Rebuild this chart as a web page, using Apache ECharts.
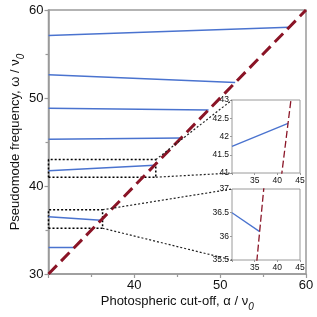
<!DOCTYPE html>
<html>
<head>
<meta charset="utf-8">
<script src="https://cdn.jsdelivr.net/npm/echarts@6/dist/echarts.min.js"></script>
<style>html,body{margin:0;padding:0;background:#fff}#c{width:317px;height:317px}</style>
</head>
<body>
<div id="c"></div>
<script>
// ---- data ----
const mainTicks = [30, 40, 50, 60];
const insetXTicks = [30, 35, 40, 45];
const inset1YTicks = [41, 41.5, 42, 42.5, 43];
const inset2YTicks = [35.5, 36, 36.5, 37];
const alphaStart = 30;
const modeStartOmega = [57.1, 52.65, 48.83, 45.3, 41.73, 36.5, 33.0];
const modeEndAlpha = [58.05, 51.75, 48.65, 45.45, 42.36, 36.1, 33.0];
const modeEndOmega = [58.05, 51.75, 48.65, 45.45, 42.36, 36.1, 33.0];
const cutoffAlpha = [30, 60];
const cutoffOmega = [30, 60];
const box1Alpha = [30, 42.5];
const box1Omega = [41, 43];
const box2Alpha = [30, 36.3];
const box2Omega = [35.2, 37.3];
const inset1Mode = 4;
const inset2Mode = 5;

// ---- style / layout ----
const BLUE = '#4a73cf';
const RED = '#8a1426';
const GRAY = '#9a9a9a';
const FONT = 'Liberation Sans';
const mainG = {left: 48.5, top: 10, right: 11, bottom: 43};
const in1 = {left: 232, top: 100, width: 68, height: 73};
const in2 = {left: 232, top: 189, width: 68, height: 71};

function seg(i) {
  return [[alphaStart, modeStartOmega[i]], [modeEndAlpha[i], modeEndOmega[i]]];
}
function box(ax, om) {
  return [[ax[0], om[0]], [ax[1], om[0]], [ax[1], om[1]], [ax[0], om[1]], [ax[0], om[0]]];
}
const diag = cutoffAlpha.map((a, i) => [a, cutoffOmega[i]]);

const series = [];
// dotted boxes
[box(box1Alpha, box1Omega), box(box2Alpha, box2Omega)].forEach(d => series.push({
  type: 'line', xAxisIndex: 0, yAxisIndex: 0, data: d, symbol: 'none', silent: true,
  lineStyle: {color: '#000', width: 1.5, type: [2, 2]}, z: 2
}));
// modes in main plot
modeStartOmega.forEach((_, i) => series.push({
  type: 'line', xAxisIndex: 0, yAxisIndex: 0, data: seg(i), symbol: 'none', silent: true,
  lineStyle: {color: BLUE, width: 1.5}, z: 3
}));
series.push({
  type: 'line', xAxisIndex: 0, yAxisIndex: 0, data: diag, symbol: 'none', silent: true,
  lineStyle: {color: RED, width: 3, type: [12, 6]}, z: 4
});
// inset 1
series.push({type: 'line', xAxisIndex: 1, yAxisIndex: 1, data: seg(inset1Mode), symbol: 'none', silent: true,
  lineStyle: {color: BLUE, width: 1.3}, z: 10});
series.push({type: 'line', xAxisIndex: 1, yAxisIndex: 1, data: diag, symbol: 'none', silent: true, clip: true,
  lineStyle: {color: RED, width: 1.3, type: [7, 3]}, z: 10});
// inset 2
series.push({type: 'line', xAxisIndex: 2, yAxisIndex: 2, data: seg(inset2Mode), symbol: 'none', silent: true,
  lineStyle: {color: BLUE, width: 1.3}, z: 10});
series.push({type: 'line', xAxisIndex: 2, yAxisIndex: 2, data: diag, symbol: 'none', silent: true, clip: true,
  lineStyle: {color: RED, width: 1.3, type: [7, 3]}, z: 10});

function insetX(idx) {
  return {
    type: 'value', gridIndex: idx, min: insetXTicks[0], max: insetXTicks[insetXTicks.length - 1],
    interval: insetXTicks[1] - insetXTicks[0],
    axisLine: {show: false}, splitLine: {show: false},
    axisTick: {show: true, length: 2, lineStyle: {color: GRAY}},
    axisLabel: {fontFamily: FONT, fontSize: 8.5, color: '#111', margin: 3,
      formatter: v => (v === insetXTicks[0] ? '' : String(v))}
  };
}
function insetY(idx, ticks) {
  return {
    type: 'value', gridIndex: idx, min: ticks[0], max: ticks[ticks.length - 1],
    interval: ticks[1] - ticks[0],
    axisLine: {show: false}, splitLine: {show: false},
    axisTick: {show: true, length: 2, lineStyle: {color: GRAY}},
    axisLabel: {fontFamily: FONT, fontSize: 8.5, color: '#111', margin: 3}
  };
}

const option = {
  backgroundColor: '#fff',
  animation: false,
  grid: [
    Object.assign({show: true, borderColor: GRAY, borderWidth: 1.5, outerBoundsMode: 'none', z: 0}, mainG),
    Object.assign({show: true, borderColor: GRAY, borderWidth: 1, backgroundColor: '#fff', outerBoundsMode: 'none', z: 8}, in1),
    Object.assign({show: true, borderColor: GRAY, borderWidth: 1, backgroundColor: '#fff', outerBoundsMode: 'none', z: 8}, in2)
  ],
  xAxis: [
    {
      type: 'value', gridIndex: 0, min: mainTicks[0], max: mainTicks[mainTicks.length - 1],
      interval: mainTicks[1] - mainTicks[0],
      axisLine: {show: true, lineStyle: {color: GRAY, width: 1.5}},
      axisTick: {show: true, length: 4, lineStyle: {color: GRAY, width: 1.2}},
      minorTick: {show: true, splitNumber: 2, length: 3, lineStyle: {color: GRAY, width: 1.2}},
      splitLine: {show: false},
      axisLabel: {fontFamily: FONT, fontSize: 13, color: '#111', margin: 5,
        formatter: v => (v === mainTicks[0] ? '' : String(v))},
      name: '{a|Photospheric cut-off, α / ν}{s|0}', nameLocation: 'middle', nameGap: 16,
      nameMoveOverlap: false,
      nameTextStyle: {fontFamily: FONT, color: '#111',
        rich: {a: {fontFamily: FONT, fontSize: 13, color: '#111', lineHeight: 22},
               s: {fontFamily: FONT, fontSize: 10, fontStyle: 'italic', color: '#111', lineHeight: 8, verticalAlign: 'bottom'}}}
    },
    insetX(1), insetX(2)
  ],
  yAxis: [
    {
      type: 'value', gridIndex: 0, min: mainTicks[0], max: mainTicks[mainTicks.length - 1],
      interval: mainTicks[1] - mainTicks[0],
      axisLine: {show: true, lineStyle: {color: GRAY, width: 1.5}},
      axisTick: {show: true, length: 4, lineStyle: {color: GRAY, width: 1.2}},
      minorTick: {show: true, splitNumber: 2, length: 3, lineStyle: {color: GRAY, width: 1.2}},
      splitLine: {show: false},
      axisLabel: {fontFamily: FONT, fontSize: 13, color: '#111', margin: 5},
      name: '{a|Pseudomode frequency, ω / ν}{s|0}', nameLocation: 'middle', nameGap: 22,
      nameMoveOverlap: false,
      nameTextStyle: {fontFamily: FONT, color: '#111',
        rich: {a: {fontFamily: FONT, fontSize: 13, color: '#111', lineHeight: 22},
               s: {fontFamily: FONT, fontSize: 10, fontStyle: 'italic', color: '#111', lineHeight: 8, verticalAlign: 'bottom'}}}
    },
    insetY(1, inset1YTicks), insetY(2, inset2YTicks)
  ],
  series: series
};

const chart = echarts.init(document.getElementById('c'), null, {renderer: 'canvas'});
chart.setOption(option);

// connectors from zoom boxes to insets
function px(a, o) { return chart.convertToPixel({xAxisIndex: 0, yAxisIndex: 0}, [a, o]); }
const conn = [
  [px(box1Alpha[1], box1Omega[1]), [in1.left, in1.top]],
  [px(box1Alpha[1], box1Omega[0]), [in1.left, in1.top + in1.height]],
  [px(box2Alpha[1], box2Omega[1]), [in2.left, in2.top]],
  [px(box2Alpha[1], box2Omega[0]), [in2.left, in2.top + in2.height]]
];
chart.setOption({
  graphic: conn.map(c => ({
    type: 'line', silent: true, z: 5,
    shape: {x1: c[0][0], y1: c[0][1], x2: c[1][0], y2: c[1][1]},
    style: {stroke: '#222', lineWidth: 1.2, lineDash: [2, 2]}
  }))
});
</script>
</body>
</html>
